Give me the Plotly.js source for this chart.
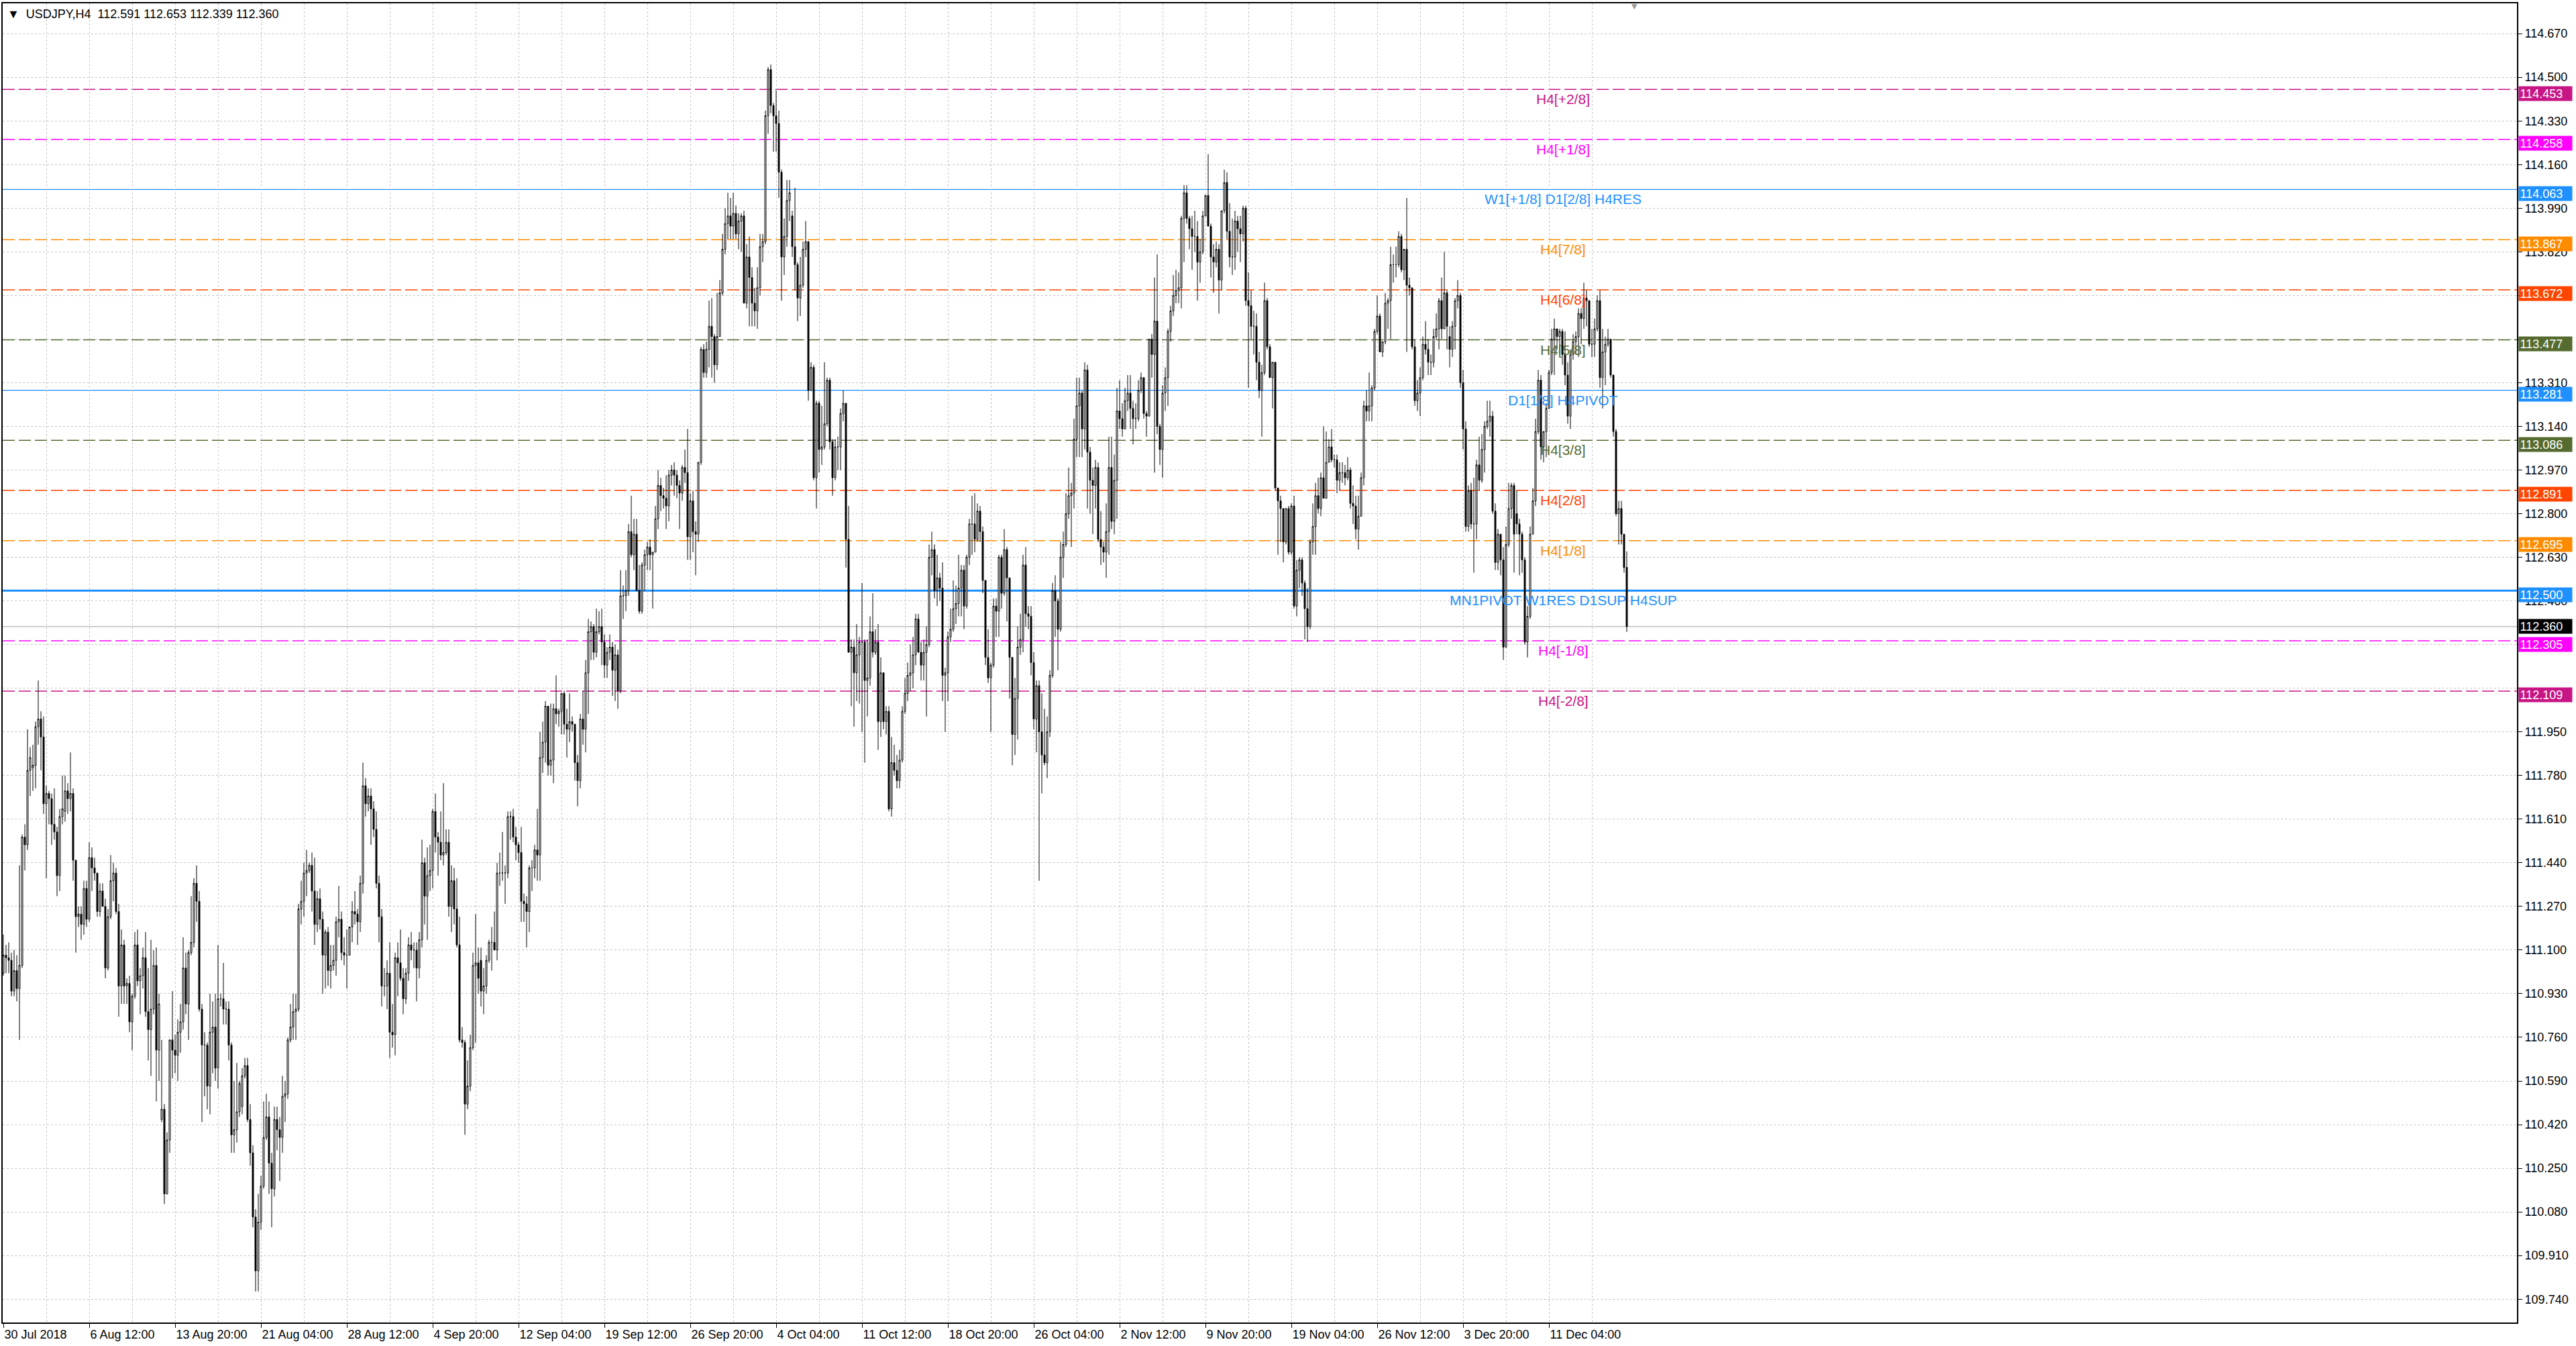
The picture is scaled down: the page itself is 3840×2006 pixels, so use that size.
<!DOCTYPE html>
<html>
<head>
<meta charset="utf-8">
<script src="https://cdn.plot.ly/plotly-3.0.1.min.js"></script>
<style>
  html, body { margin: 0; padding: 0; background: #ffffff; }
  #chart { width: 3840px; height: 2006px; }
</style>
</head>
<body>
<div id="chart"></div>
<script>
// USDJPY H4 candles (bar 0 = 30 Jul 2018 00:00).
const opens = [
  111.05,111.01,111.08,111.07,111.06,110.94,111.02,110.95,111.04,111.54,
  111.51,111.80,111.81,111.82,111.97,112.00,111.93,111.67,111.71,111.69,
  111.59,111.56,111.39,111.62,111.64,111.72,111.69,111.71,111.45,111.23,
  111.24,111.20,111.34,111.22,111.46,111.42,111.40,111.25,111.33,111.27,
  111.03,111.23,111.37,111.40,111.25,110.96,111.12,110.96,110.97,110.82,
  110.92,111.12,110.98,111.00,111.07,110.86,110.79,110.87,111.04,110.71,
  110.44,110.48,110.15,110.36,110.75,110.71,110.69,110.78,110.82,111.03,
  110.89,111.09,111.13,111.36,111.29,110.87,110.73,110.73,110.57,110.78,
  110.80,110.64,110.91,110.91,110.87,110.87,110.73,110.38,110.40,110.47,
  110.49,110.61,110.65,110.44,110.31,110.06,109.85,110.04,110.18,110.37,
  110.45,110.27,110.17,110.44,110.40,110.37,110.53,110.54,110.75,110.80,
  110.86,110.87,111.26,111.29,111.40,111.41,111.43,111.33,111.20,111.30,
  111.22,111.08,111.17,111.02,111.04,111.06,111.21,111.22,111.09,111.08,
  111.08,111.19,111.25,111.24,111.21,111.36,111.74,111.67,111.70,111.65,
  111.57,111.36,111.23,110.96,110.96,111.01,110.78,110.77,111.07,111.05,
  110.99,110.91,111.01,111.12,111.10,111.10,111.03,111.14,111.44,111.31,
  111.39,111.41,111.64,111.54,111.52,111.47,111.48,111.52,111.27,111.37,
  111.26,111.12,110.75,110.74,110.50,110.57,110.72,111.04,111.05,111.06,
  110.94,110.96,111.06,111.13,111.13,111.10,111.40,111.40,111.40,111.40,
  111.62,111.62,111.54,111.51,111.48,111.29,111.28,111.25,111.42,111.42,
  111.49,111.47,111.85,111.91,112.05,111.82,111.84,112.04,112.02,112.03,
  112.10,111.98,111.96,111.99,111.98,111.83,111.76,112.00,111.96,112.18,
  112.34,112.36,112.26,112.34,112.36,112.30,112.21,112.26,112.28,112.19,
  112.25,112.11,112.48,112.48,112.50,112.73,112.64,112.72,112.50,112.42,
  112.60,112.64,112.67,112.64,112.65,112.78,112.91,112.87,112.86,112.83,
  112.95,112.97,112.95,112.91,112.88,112.98,112.96,112.71,112.85,112.73,
  112.72,113.00,113.44,113.35,113.44,113.53,113.49,113.38,113.49,113.66,
  113.83,113.93,113.96,113.92,113.97,113.89,113.94,113.96,113.62,113.80,
  113.72,113.62,113.59,113.68,113.84,113.86,114.35,114.53,114.39,114.35,
  114.32,114.13,113.80,113.88,114.02,113.96,113.84,113.77,113.64,113.69,
  113.83,113.86,113.28,113.37,112.94,113.23,113.05,113.06,113.15,113.32,
  113.08,112.94,113.06,113.06,113.19,113.23,112.70,112.26,112.28,112.18,
  112.25,112.30,112.30,112.15,112.16,112.34,112.26,112.30,111.99,112.18,
  111.99,112.03,111.65,111.83,111.80,111.76,111.84,112.03,112.10,112.17,
  112.18,112.25,112.39,112.26,112.21,112.26,112.29,112.63,112.66,112.50,
  112.55,112.51,112.17,112.18,112.32,112.35,112.43,112.45,112.51,112.58,
  112.44,112.63,112.76,112.76,112.70,112.81,112.73,112.54,112.24,112.16,
  112.21,112.44,112.42,112.63,112.49,112.66,112.55,112.24,111.94,112.08,
  112.28,112.31,112.60,112.41,112.40,112.22,112.00,112.13,111.95,111.86,
  111.83,111.95,112.17,112.50,112.46,112.35,112.63,112.68,112.80,112.87,
  112.88,113.09,113.22,113.27,113.13,113.36,113.04,112.93,112.91,112.98,
  112.70,112.67,112.65,112.73,112.98,112.77,112.93,113.20,113.17,113.13,
  113.24,113.27,113.21,113.17,113.17,113.28,113.33,113.19,113.18,113.48,
  113.42,113.55,113.14,113.05,113.27,113.33,113.51,113.59,113.65,113.67,
  113.68,113.95,114.05,113.95,113.91,113.88,113.88,113.78,113.82,113.96,
  114.04,113.92,113.80,113.78,113.83,113.71,113.98,114.09,113.90,113.80,
  113.80,113.94,113.91,113.89,113.99,113.63,113.61,113.53,113.53,113.39,
  113.28,113.35,113.63,113.45,113.33,113.39,112.90,112.85,112.82,112.69,
  112.82,112.65,112.83,112.44,112.58,112.62,112.53,112.43,112.36,112.69,
  112.75,112.87,112.82,112.94,112.86,113.00,113.06,113.01,113.01,112.93,
  112.96,112.96,112.94,112.97,112.84,112.83,112.74,112.79,112.94,113.22,
  113.20,113.22,113.29,113.51,113.57,113.43,113.47,113.62,113.63,113.77,
  113.77,113.77,113.88,113.75,113.83,113.69,113.68,113.45,113.24,113.27,
  113.33,113.46,113.44,113.39,113.39,113.49,113.52,113.63,113.52,113.66,
  113.49,113.44,113.53,113.63,113.65,113.31,113.13,112.75,112.89,112.76,
  112.76,112.99,112.93,113.05,113.14,113.16,113.18,112.81,112.61,112.72,
  112.62,112.28,112.68,112.82,112.91,112.80,112.76,112.72,112.62,112.30,
  112.40,112.72,112.85,113.12,113.32,113.06,113.12,113.21,113.35,113.48,
  113.52,113.49,113.51,113.42,113.34,113.18,113.42,113.47,113.49,113.58,
  113.56,113.64,113.63,113.46,113.46,113.52,113.63,113.33,113.43,113.46,
  113.48,113.34,113.12,112.80,112.82,112.72,112.591
];
const highs = [
  111.12,111.16,111.12,111.13,111.09,111.10,111.08,111.43,111.55,111.59,
  111.96,111.89,111.90,111.99,112.15,112.03,112.01,111.74,111.72,111.71,
  111.73,111.58,111.65,111.78,111.78,111.75,111.87,111.73,111.45,111.27,
  111.27,111.37,111.37,111.52,111.50,111.46,111.40,111.36,111.36,111.30,
  111.26,111.47,111.44,111.42,111.28,111.18,111.14,110.99,111.00,110.93,
  111.17,111.18,111.03,111.11,111.17,111.03,111.14,111.10,111.11,110.93,
  110.75,110.50,110.39,110.75,110.94,110.77,110.83,110.89,111.15,111.09,
  111.10,111.31,111.38,111.43,111.33,110.89,110.78,110.74,110.93,110.90,
  110.93,111.12,110.93,111.05,110.90,110.90,110.74,110.59,110.66,110.59,
  110.64,110.68,110.68,110.50,110.34,110.09,110.15,110.22,110.51,110.54,
  110.51,110.31,110.49,110.49,110.45,110.61,110.59,110.76,110.89,110.93,
  110.93,111.28,111.37,111.44,111.49,111.44,111.48,111.46,111.33,111.34,
  111.25,111.18,111.19,111.12,111.12,111.23,111.35,111.25,111.15,111.18,
  111.19,111.29,111.33,111.26,111.39,111.83,111.77,111.73,111.73,111.68,
  111.64,111.39,111.26,111.03,111.06,111.13,110.89,111.09,111.13,111.18,
  111.03,111.03,111.15,111.17,111.13,111.13,111.17,111.53,111.46,111.50,
  111.51,111.65,111.71,111.56,111.64,111.75,111.57,111.57,111.43,111.42,
  111.38,111.23,110.80,110.75,110.67,110.77,111.09,111.24,111.11,111.11,
  111.03,111.08,111.14,111.19,111.25,111.44,111.48,111.56,111.43,111.64,
  111.64,111.65,111.58,111.52,111.58,111.32,111.31,111.43,111.45,111.51,
  111.65,111.95,111.99,112.07,112.05,112.06,112.06,112.17,112.04,112.10,
  112.11,112.04,112.10,112.01,111.98,111.86,112.02,112.11,112.23,112.39,
  112.38,112.37,112.43,112.42,112.43,112.33,112.28,112.33,112.30,112.29,
  112.27,112.58,112.52,112.58,112.76,112.87,112.78,112.78,112.60,112.61,
  112.66,112.69,112.70,112.65,112.83,112.97,112.94,112.90,112.95,112.97,
  112.99,113.00,112.97,112.93,112.99,113.05,113.13,112.88,112.89,112.77,
  113.00,113.45,113.46,113.47,113.63,113.64,113.50,113.66,113.71,113.89,
  113.99,114.05,114.03,114.05,114.00,113.97,113.97,113.98,113.85,113.88,
  113.76,113.68,113.76,113.89,113.89,114.37,114.54,114.55,114.40,114.45,
  114.37,114.14,113.95,114.10,114.10,113.98,114.07,113.78,113.80,113.86,
  113.94,113.86,113.39,113.38,113.24,113.24,113.22,113.39,113.33,113.33,
  113.09,113.09,113.10,113.21,113.28,113.23,112.83,112.31,112.31,112.37,
  112.32,112.53,112.31,112.31,112.40,112.49,112.35,112.37,112.24,112.18,
  112.05,112.05,111.93,111.90,111.86,111.88,112.05,112.16,112.22,112.29,
  112.32,112.41,112.41,112.30,112.31,112.36,112.68,112.73,112.68,112.64,
  112.57,112.61,112.20,112.34,112.43,112.54,112.52,112.64,112.60,112.60,
  112.64,112.78,112.87,112.88,112.84,112.83,112.75,112.54,112.35,112.22,
  112.47,112.47,112.64,112.64,112.74,112.67,112.55,112.24,112.16,112.36,
  112.41,112.64,112.67,112.44,112.44,112.26,112.15,112.15,112.10,112.04,
  112.01,112.19,112.53,112.56,112.47,112.69,112.73,112.88,112.98,112.92,
  113.17,113.33,113.33,113.28,113.39,113.38,113.06,112.98,113.01,113.00,
  112.81,112.69,112.84,113.10,113.10,113.03,113.29,113.32,113.23,113.29,
  113.34,113.34,113.24,113.23,113.32,113.35,113.33,113.20,113.48,113.50,
  113.72,113.81,113.15,113.30,113.37,113.52,113.61,113.73,113.75,113.74,
  113.96,114.08,114.08,113.96,113.96,113.98,113.94,113.87,113.98,114.04,
  114.20,113.93,113.85,113.86,113.85,113.98,114.14,114.13,114.01,113.95,
  113.98,113.96,113.96,114.00,114.00,113.74,113.67,113.59,113.58,113.43,
  113.38,113.70,113.64,113.46,113.39,113.39,112.90,112.87,112.82,112.82,
  112.83,112.84,112.87,112.62,112.63,112.63,112.54,112.51,112.70,112.84,
  112.92,112.94,112.96,113.14,113.12,113.09,113.13,113.03,113.03,113.00,
  113.00,112.99,113.02,112.98,112.91,112.87,112.87,112.96,113.24,113.28,
  113.35,113.30,113.52,113.65,113.58,113.47,113.66,113.64,113.84,113.81,
  113.84,113.90,113.89,113.83,114.03,113.72,113.68,113.48,113.32,113.37,
  113.49,113.55,113.48,113.42,113.52,113.58,113.64,113.72,113.82,113.67,
  113.53,113.55,113.64,113.71,113.66,113.36,113.16,112.91,112.92,112.94,
  113.01,113.10,113.11,113.16,113.24,113.24,113.20,112.84,112.74,112.72,
  112.67,112.75,112.92,112.92,112.92,112.89,112.78,112.73,112.63,112.44,
  112.75,112.90,113.17,113.36,113.34,113.12,113.23,113.36,113.52,113.56,
  113.52,113.52,113.52,113.51,113.39,113.44,113.50,113.51,113.60,113.60,
  113.70,113.67,113.63,113.52,113.56,113.65,113.67,113.52,113.49,113.52,
  113.48,113.34,113.13,112.85,112.85,112.72,112.653
];
const lows = [
  110.95,111.00,111.01,111.01,110.92,110.92,110.90,110.75,111.03,111.41,
  111.49,111.70,111.72,111.73,111.90,111.80,111.63,111.38,111.59,111.51,
  111.53,111.31,111.33,111.59,111.60,111.63,111.64,111.37,111.09,111.19,
  111.14,111.16,111.19,111.21,111.33,111.37,111.23,111.23,111.27,110.99,
  111.02,111.22,111.29,111.24,110.84,110.89,110.89,110.89,110.78,110.71,
  110.91,110.96,110.85,110.95,110.84,110.67,110.61,110.85,110.51,110.59,
  110.43,110.11,110.15,110.31,110.60,110.62,110.59,110.70,110.79,110.85,
  110.75,111.08,111.11,111.21,110.86,110.43,110.53,110.48,110.46,110.62,
  110.59,110.56,110.88,110.81,110.81,110.67,110.31,110.31,110.35,110.45,
  110.46,110.60,110.43,110.26,110.02,109.77,109.77,110.01,110.17,110.36,
  110.15,110.02,110.14,110.32,110.20,110.31,110.43,110.52,110.74,110.75,
  110.75,110.86,111.20,111.23,111.31,111.40,111.25,111.12,111.17,111.18,
  110.93,110.95,110.96,110.95,111.02,111.00,111.15,111.06,111.04,110.95,
  111.08,111.13,111.20,111.12,111.17,111.32,111.62,111.64,111.51,111.54,
  111.34,111.13,110.88,110.92,110.87,110.68,110.72,110.69,110.92,110.98,
  110.85,110.89,110.98,111.06,111.03,110.90,110.99,111.11,111.20,111.14,
  111.33,111.34,111.48,111.39,111.45,111.43,111.47,111.23,111.17,111.20,
  111.11,110.74,110.72,110.38,110.48,110.55,110.71,110.74,110.93,110.88,
  110.85,110.93,111.05,111.02,111.10,111.06,111.35,111.37,111.28,111.38,
  111.53,111.52,111.45,111.44,111.21,111.21,111.11,111.17,111.33,111.38,
  111.37,111.37,111.79,111.83,111.78,111.78,111.75,111.98,111.97,111.94,
  111.94,111.85,111.91,111.95,111.76,111.66,111.73,111.90,111.87,112.02,
  112.23,112.23,112.24,112.33,112.21,112.16,112.16,112.23,112.09,112.07,
  112.04,112.10,112.39,112.42,112.48,112.63,112.58,112.50,112.41,112.41,
  112.50,112.58,112.58,112.43,112.65,112.74,112.81,112.82,112.74,112.77,
  112.91,112.87,112.86,112.74,112.85,112.92,112.62,112.62,112.65,112.56,
  112.69,112.99,113.33,113.33,113.37,113.33,113.31,113.36,113.49,113.65,
  113.81,113.87,113.87,113.87,113.87,113.83,113.82,113.62,113.60,113.53,
  113.53,113.53,113.52,113.65,113.78,113.85,114.28,114.36,114.21,114.21,
  114.03,113.63,113.73,113.84,113.94,113.80,113.67,113.55,113.57,113.68,
  113.80,113.24,113.28,112.93,112.82,112.96,112.99,113.05,113.14,113.05,
  112.87,112.93,112.97,112.97,113.16,112.59,112.26,112.05,111.97,112.07,
  112.06,111.95,111.83,112.01,112.13,112.24,112.25,111.88,111.93,111.96,
  111.94,111.64,111.62,111.78,111.73,111.73,111.83,112.02,112.07,112.11,
  112.12,112.21,112.26,112.15,112.15,112.01,112.28,112.56,112.47,112.44,
  112.46,112.07,111.95,112.07,112.30,112.34,112.37,112.40,112.40,112.35,
  112.43,112.60,112.64,112.65,112.69,112.69,112.49,112.21,112.14,111.95,
  112.20,112.32,112.32,112.43,112.48,112.38,112.08,111.82,111.86,111.92,
  112.25,112.26,112.36,112.35,112.17,111.96,111.87,111.37,111.71,111.82,
  111.77,111.93,112.16,112.32,112.19,112.34,112.55,112.67,112.78,112.67,
  112.82,113.02,113.02,113.02,113.05,112.82,112.80,112.72,112.82,112.69,
  112.60,112.61,112.55,112.64,112.74,112.72,112.78,113.13,113.10,113.13,
  113.20,113.13,113.07,113.13,113.16,113.27,113.17,113.10,113.18,113.33,
  112.96,113.11,112.99,112.94,113.20,113.22,113.47,113.57,113.62,113.62,
  113.60,113.78,113.93,113.83,113.75,113.82,113.63,113.70,113.81,113.96,
  113.92,113.72,113.66,113.76,113.58,113.67,113.97,113.87,113.76,113.73,
  113.75,113.82,113.78,113.86,113.61,113.29,113.48,113.42,113.32,113.25,
  113.10,113.34,113.44,113.33,113.21,112.89,112.64,112.69,112.61,112.68,
  112.64,112.64,112.43,112.40,112.51,112.48,112.31,112.30,112.35,112.64,
  112.64,112.80,112.79,112.86,112.86,113.00,113.00,112.98,112.88,112.89,
  112.92,112.91,112.93,112.82,112.76,112.70,112.66,112.79,112.91,113.16,
  113.16,113.16,113.28,113.50,113.43,113.41,113.46,113.52,113.48,113.70,
  113.72,113.76,113.74,113.71,113.43,113.65,113.44,113.22,113.20,113.18,
  113.32,113.42,113.34,113.34,113.37,113.48,113.44,113.48,113.52,113.44,
  113.37,113.41,113.44,113.60,113.29,113.05,112.73,112.73,112.74,112.57,
  112.70,112.89,112.92,112.96,113.13,113.10,112.80,112.58,112.58,112.56,
  112.23,112.28,112.67,112.78,112.57,112.72,112.56,112.57,112.29,112.24,
  112.39,112.72,112.83,113.11,113.01,113.00,113.02,113.21,113.34,113.34,
  113.44,113.42,113.38,113.30,113.15,113.13,113.40,113.42,113.41,113.46,
  113.52,113.53,113.45,113.41,113.41,113.51,113.29,113.21,113.30,113.45,
  113.33,113.10,112.79,112.68,112.68,112.57,112.339
];
const closes = [
  111.01,111.08,111.07,111.06,110.94,111.02,110.95,111.04,111.54,111.51,
  111.80,111.85,111.82,111.97,112.00,111.93,111.67,111.71,111.69,111.59,
  111.56,111.39,111.62,111.65,111.72,111.69,111.71,111.45,111.23,111.24,
  111.20,111.34,111.22,111.46,111.42,111.40,111.25,111.33,111.27,111.03,
  111.23,111.37,111.40,111.25,110.96,111.12,110.96,110.97,110.82,110.92,
  111.12,110.98,111.00,111.07,110.86,110.79,110.87,111.04,110.71,110.89,
  110.48,110.15,110.36,110.75,110.71,110.69,110.78,110.82,111.03,110.89,
  111.09,111.13,111.36,111.29,110.87,110.73,110.73,110.57,110.78,110.80,
  110.64,110.91,110.91,110.87,110.87,110.73,110.38,110.40,110.47,110.58,
  110.61,110.65,110.44,110.31,110.06,109.85,110.04,110.18,110.37,110.45,
  110.27,110.17,110.44,110.40,110.37,110.53,110.54,110.75,110.80,110.86,
  110.87,111.26,111.29,111.40,111.41,111.43,111.33,111.20,111.30,111.22,
  111.08,111.17,111.02,111.04,111.06,111.21,111.22,111.09,111.08,111.08,
  111.19,111.25,111.24,111.21,111.36,111.74,111.67,111.70,111.65,111.57,
  111.36,111.23,110.96,110.96,111.01,110.78,110.77,111.07,111.05,110.99,
  110.91,111.01,111.12,111.10,111.10,111.03,111.14,111.44,111.31,111.39,
  111.41,111.64,111.54,111.52,111.47,111.48,111.52,111.27,111.37,111.26,
  111.12,110.75,110.74,110.50,110.57,110.72,111.04,111.05,110.99,110.94,
  110.96,111.06,111.13,111.13,111.10,111.40,111.40,111.40,111.40,111.62,
  111.62,111.54,111.51,111.48,111.29,111.28,111.25,111.42,111.42,111.49,
  111.47,111.85,111.91,112.05,111.82,111.84,112.04,112.02,112.03,112.10,
  111.98,111.96,111.99,111.98,111.83,111.76,112.00,111.96,112.18,112.34,
  112.36,112.26,112.34,112.36,112.30,112.21,112.26,112.28,112.19,112.25,
  112.11,112.48,112.48,112.50,112.73,112.64,112.72,112.50,112.42,112.60,
  112.64,112.67,112.64,112.65,112.78,112.91,112.87,112.86,112.83,112.95,
  112.97,112.95,112.91,112.88,112.98,112.96,112.71,112.85,112.73,112.72,
  113.00,113.44,113.35,113.44,113.53,113.49,113.38,113.49,113.66,113.83,
  113.93,113.96,113.92,113.97,113.89,113.94,113.96,113.62,113.80,113.72,
  113.62,113.59,113.68,113.84,113.86,114.35,114.53,114.39,114.35,114.32,
  114.13,113.80,113.88,114.02,114.05,113.84,113.77,113.64,113.69,113.83,
  113.86,113.28,113.37,112.94,113.23,113.05,113.06,113.15,113.32,113.08,
  112.94,113.06,113.06,113.19,113.23,112.70,112.26,112.28,112.18,112.25,
  112.30,112.30,112.15,112.16,112.34,112.26,112.30,111.99,112.18,111.99,
  112.03,111.65,111.83,111.80,111.76,111.84,112.03,112.10,112.17,112.18,
  112.25,112.39,112.26,112.21,112.26,112.29,112.63,112.66,112.50,112.55,
  112.51,112.17,112.18,112.32,112.35,112.43,112.45,112.51,112.58,112.44,
  112.63,112.76,112.76,112.70,112.81,112.73,112.54,112.24,112.16,112.21,
  112.44,112.42,112.63,112.49,112.66,112.55,112.24,111.94,112.08,112.28,
  112.31,112.60,112.41,112.40,112.22,112.00,112.13,111.95,111.86,111.83,
  111.95,112.17,112.50,112.46,112.35,112.63,112.68,112.80,112.87,112.88,
  113.09,113.22,113.27,113.13,113.36,113.04,112.93,112.91,112.98,112.70,
  112.67,112.65,112.73,112.98,112.77,112.93,113.20,113.17,113.13,113.24,
  113.27,113.21,113.17,113.17,113.28,113.33,113.19,113.18,113.48,113.42,
  113.55,113.14,113.05,113.27,113.33,113.51,113.59,113.65,113.67,113.68,
  113.95,114.05,113.95,113.91,113.88,113.88,113.78,113.82,113.96,114.04,
  113.92,113.80,113.78,113.83,113.71,113.98,114.09,113.90,113.80,113.80,
  113.94,113.91,113.89,113.99,113.63,113.61,113.53,113.53,113.39,113.28,
  113.35,113.63,113.45,113.33,113.39,112.90,112.85,112.82,112.69,112.82,
  112.65,112.83,112.44,112.58,112.62,112.53,112.43,112.36,112.69,112.75,
  112.87,112.82,112.94,112.86,113.00,113.06,113.01,113.01,112.93,112.96,
  112.96,112.94,112.97,112.84,112.83,112.74,112.79,112.94,113.22,113.20,
  113.22,113.29,113.51,113.57,113.43,113.47,113.62,113.63,113.77,113.77,
  113.77,113.88,113.75,113.83,113.69,113.68,113.45,113.24,113.27,113.33,
  113.46,113.44,113.39,113.39,113.49,113.52,113.63,113.52,113.66,113.53,
  113.44,113.53,113.63,113.65,113.31,113.13,112.75,112.89,112.76,112.76,
  112.99,112.93,113.05,113.14,113.16,113.18,112.81,112.61,112.72,112.62,
  112.28,112.68,112.82,112.91,112.72,112.76,112.72,112.62,112.30,112.40,
  112.72,112.85,113.12,113.32,113.06,113.12,113.21,113.35,113.48,113.52,
  113.49,113.51,113.42,113.34,113.18,113.42,113.47,113.49,113.58,113.56,
  113.64,113.63,113.46,113.46,113.52,113.63,113.33,113.43,113.46,113.48,
  113.34,113.12,112.80,112.82,112.72,112.59,112.360
];

// Time-scale labels, one every 32 bars starting at bar 1
const dateLabels = [
  "30 Jul 2018", "6 Aug 12:00", "13 Aug 20:00", "21 Aug 04:00", "28 Aug 12:00",
  "4 Sep 20:00", "12 Sep 04:00", "19 Sep 12:00", "26 Sep 20:00", "4 Oct 04:00",
  "11 Oct 12:00", "18 Oct 20:00", "26 Oct 04:00", "2 Nov 12:00", "9 Nov 20:00",
  "19 Nov 04:00", "26 Nov 12:00", "3 Dec 20:00", "11 Dec 04:00"
];

// Price-scale ticks (every 0.17)
const priceTicks = [109.740, 109.910, 110.080, 110.250, 110.420, 110.590, 110.760, 110.930,
                    111.100, 111.270, 111.440, 111.610, 111.780, 111.950, 112.120, 112.290,
                    112.460, 112.630, 112.800, 112.970, 113.140, 113.310, 113.480, 113.650,
                    113.820, 113.990, 114.160, 114.330, 114.500, 114.670];

// Murrey / pivot levels drawn on the chart
const levelPrices = [114.453, 114.258, 114.063, 113.867, 113.672, 113.477, 113.281,
                     113.086, 112.891, 112.695, 112.500, 112.305, 112.109];
const levelNames = ["H4[+2/8]", "H4[+1/8]", "W1[+1/8] D1[2/8] H4RES", "H4[7/8]", "H4[6/8]",
                    "H4[5/8]", "D1[1/8] H4PIVOT", "H4[3/8]", "H4[2/8]", "H4[1/8]",
                    "MN1PIVOT W1RES D1SUP H4SUP", "H4[-1/8]", "H4[-2/8]"];
const symbolName = "USDJPY,H4";

// styles
const VIOLET = "#C71585", MAGENTA = "#FF00FF", BLUE = "#1E90FF", ORANGE = "#FF8C00",
      RED = "#FF4500", OLIVE = "#556B2F";
const levelStyle = [
  { color: VIOLET, dash: "18px,6px", width: 1.5 },
  { color: MAGENTA, dash: "18px,6px", width: 1.5 },
  { color: BLUE, dash: "solid", width: 1.2 },
  { color: ORANGE, dash: "18px,6px", width: 1.5 },
  { color: RED, dash: "18px,6px", width: 1.5 },
  { color: OLIVE, dash: "18px,6px", width: 1.5 },
  { color: BLUE, dash: "solid", width: 1.2 },
  { color: OLIVE, dash: "18px,6px", width: 1.5 },
  { color: RED, dash: "18px,6px", width: 1.5 },
  { color: ORANGE, dash: "18px,6px", width: 1.5 },
  { color: BLUE, dash: "solid", width: 3 },
  { color: MAGENTA, dash: "18px,6px", width: 1.5 },
  { color: VIOLET, dash: "18px,6px", width: 1.5 },
];
const FONT = "Liberation Sans, Arial, sans-serif";
const GRID = "#c4c4c4";
const TEXT_X = 0.6206; // where the level captions sit, as a fraction of the plot width

const barIndex = closes.map((_, i) => i);
const lastBar = closes.length - 1;
const bid = closes[lastBar];

const candles = {
  type: "candlestick",
  x: barIndex,
  open: opens,
  high: highs,
  low: lows,
  close: closes,
  whiskerwidth: 0,
  increasing: { line: { color: "#000000", width: 1 }, fillcolor: "#ffffff" },
  decreasing: { line: { color: "#000000", width: 1 }, fillcolor: "#000000" },
  hoverinfo: "skip",
  showlegend: false,
};

const shapes = levelPrices.map((p, i) => ({
  type: "line", xref: "paper", x0: 0, x1: 1, yref: "y", y0: p, y1: p,
  layer: "between",
  line: { color: levelStyle[i].color, width: levelStyle[i].width, dash: levelStyle[i].dash },
}));
shapes.push({
  type: "line", xref: "paper", x0: 0, x1: 1, yref: "y", y0: bid, y1: bid,
  layer: "between", line: { color: "#c0c0c0", width: 1.5 },
});

const annotations = [];
levelPrices.forEach((p, i) => {
  annotations.push({
    xref: "paper", x: TEXT_X, yref: "y", y: p, yanchor: "top", xanchor: "center", yshift: -1,
    text: levelNames[i], showarrow: false,
    font: { family: FONT, size: 21, color: levelStyle[i].color },
  });
  annotations.push({
    xref: "paper", x: 1, xanchor: "left", xshift: 2, yref: "y", y: p, yanchor: "middle", yshift: -6,
    text: p.toFixed(3), showarrow: false, bgcolor: levelStyle[i].color,
    width: 76, height: 18, borderpad: 1.5, align: "left",
    font: { family: FONT, size: 18, color: "#ffffff" },
  });
});
annotations.push({
  xref: "paper", x: 1, xanchor: "left", xshift: 2, yref: "y", y: bid, yanchor: "middle",
  text: bid.toFixed(3), showarrow: false, bgcolor: "#000000",
  width: 76, height: 18, borderpad: 1.5, align: "left",
  font: { family: FONT, size: 18, color: "#ffffff" },
});
// header line with the last bar's OHLC
annotations.push({
  xref: "paper", x: 0, xanchor: "left", xshift: 5, yref: "paper", y: 1, yanchor: "top", yshift: -4,
  showarrow: false, align: "left",
  text: "\u25BC\u00a0\u00a0" + symbolName + "\u00a0\u00a0" +
        [opens[lastBar], highs[lastBar], lows[lastBar], closes[lastBar]].map(v => v.toFixed(3)).join(" "),
  font: { family: FONT, size: 18, color: "#000000" },
});
// chart shift marker at the top edge
annotations.push({
  xref: "paper", x: 0.6491, xanchor: "center", yref: "paper", y: 1, yanchor: "top", yshift: 4,
  showarrow: false, text: "\u25BC", font: { family: "DejaVu Sans", size: 11, color: "#9a9a9a" },
});

// price ticks whose labels sit under a coloured level box are left blank, as on the terminal
const boxedPrices = levelPrices.concat([bid]);
const priceTickText = priceTicks.map(t =>
  boxedPrices.some(p => Math.abs(p - t) < 0.025) ? "" : t.toFixed(3));

const majorTicks = dateLabels.map((_, k) => 1 + 32 * k);
const minorTicks = dateLabels.map((_, k) => 17 + 32 * k);

const layout = {
  width: 3840,
  height: 2006,
  margin: { l: 4, r: 88, t: 5, b: 35 },
  paper_bgcolor: "#ffffff",
  plot_bgcolor: "#ffffff",
  font: { family: FONT, size: 18, color: "#000000" },
  showlegend: false,
  xaxis: {
    range: [0.75, 937.75],
    tickmode: "array",
    tickvals: majorTicks,
    ticktext: dateLabels,
    ticks: "outside",
    ticklen: 6,
    tickcolor: "#000000",
    ticklabelposition: "outside right",
    tickfont: { family: FONT, size: 18, color: "#000000" },
    showgrid: true,
    gridcolor: GRID,
    griddash: "3px,3px",
    gridwidth: 1,
    minor: { tickmode: "array", tickvals: minorTicks, showgrid: true, gridcolor: GRID,
             griddash: "3px,3px", gridwidth: 1, ticklen: 0 },
    showline: true,
    mirror: true,
    linecolor: "#000000",
    linewidth: 2,
    zeroline: false,
    rangeslider: { visible: false },
  },
  yaxis: {
    side: "right",
    range: [109.649, 114.788],
    tickmode: "array",
    tickvals: priceTicks,
    ticktext: priceTickText,
    ticks: "outside",
    ticklen: 6,
    tickcolor: "#000000",
    tickfont: { family: FONT, size: 18, color: "#000000" },
    showgrid: true,
    gridcolor: GRID,
    griddash: "3px,3px",
    gridwidth: 1,
    showline: true,
    mirror: true,
    linecolor: "#000000",
    linewidth: 2,
    zeroline: false,
  },
  shapes: shapes,
  annotations: annotations,
};

Plotly.newPlot("chart", [candles], layout, { staticPlot: true, displayModeBar: false });
</script>
</body>
</html>
